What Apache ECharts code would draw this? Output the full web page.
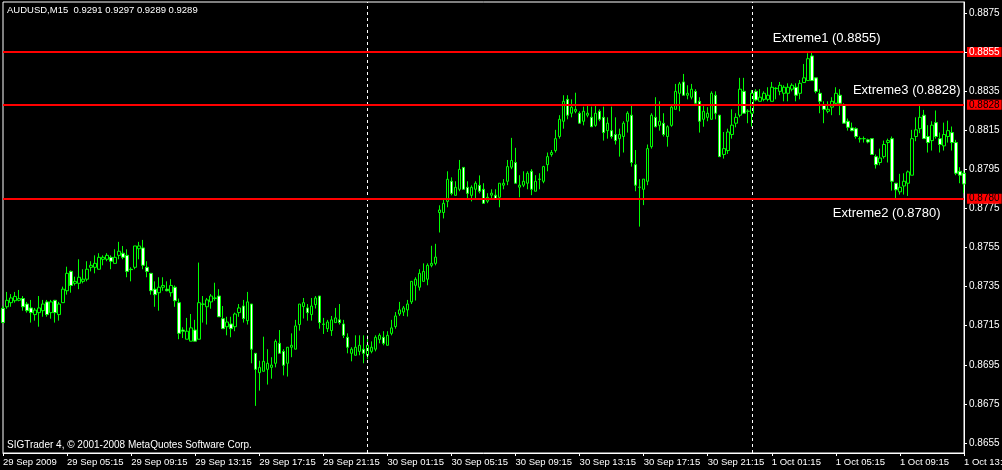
<!DOCTYPE html>
<html>
<head>
<meta charset="utf-8">
<script src="https://cdn.jsdelivr.net/npm/echarts@6/dist/echarts.min.js"></script>
<style>
html,body{margin:0;padding:0;background:#000;}
#chart{width:1002px;height:470px;}
</style>
</head>
<body>
<div id="chart"></div>
<script>
// ---- data (AUDUSD M15, 29 Sep 2009 01:15 onward) ----
const startTime = Date.UTC(2009, 8, 29, 1, 15);
const stepMinutes = 15;

const opens = [
0.87239,0.87247,0.87268,0.87278,0.87280,0.87289,0.87261,0.87241,0.87207,0.87217,
0.87227,0.87272,0.87217,0.87280,0.87207,0.87268,0.87329,0.87428,0.87367,0.87367,
0.87377,0.87388,0.87449,0.87449,0.87439,0.87490,0.87490,0.87500,0.87469,0.87510,
0.87521,0.87510,0.87439,0.87449,0.87544,0.87548,0.87449,0.87418,0.87337,0.87319,
0.87347,0.87337,0.87319,0.87347,0.87268,0.87128,0.87081,0.87071,0.87128,0.87081,
0.87261,0.87247,0.87272,0.87292,0.87302,0.87186,0.87145,0.87159,0.87145,0.87217,
0.87251,
0.87176,0.87261,0.87009,0.86910,0.86917,0.86927,0.86937,0.86958,0.87060,0.87019,
0.86958,0.87040,0.87030,0.87156,0.87248,0.87241,0.87207,0.87258,0.87302,0.87159,
0.87135,0.87125,0.87166,0.87180,0.87159,0.87091,0.87009,0.86999,0.87019,0.87030,
0.86999,0.87019,0.87030,0.87080,0.87091,0.87050,0.87111,0.87146,0.87210,0.87220,
0.87231,0.87272,0.87357,0.87347,0.87377,0.87388,0.87459,0.87469,0.87729,0.87729,
0.87786,0.87889,0.87817,0.87848,0.87960,0.87858,0.87817,0.87848,0.87868,0.87848,
0.87787,0.87818,0.87818,0.87807,0.87869,0.87889,0.87961,0.87985,0.87859,0.87869,
0.87879,0.87940,0.87838,0.87900,0.87889,0.87974,0.88026,0.88046,0.88118,0.88196,
0.88308,0.88237,0.88247,0.88237,0.88196,0.88227,0.88216,0.88175,0.88247,0.88216,
0.88148,0.88148,0.88128,0.88107,0.88118,0.88196,0.88227,0.87974,0.87859,0.87848,
0.87889,0.88066,0.88216,0.88175,0.88186,0.88118,0.88175,0.88257,0.88339,0.88397,
0.88329,0.88319,0.88349,0.88298,0.88206,0.88216,0.88206,0.88329,0.88227,0.88026,
0.88046,0.88128,0.88186,0.88227,0.88349,0.88247,0.88237,0.88349,0.88298,0.88308,
0.88308,0.88298,0.88363,0.88349,0.88339,0.88339,0.88360,0.88370,0.88339,0.88394,
0.88404,0.88530,0.88418,0.88339,0.88278,0.88247,0.88268,0.88288,0.88329,0.88278,
0.88196,0.88162,0.88158,0.88107,0.88107,0.88101,0.88107,0.88015,0.87985,0.88015,
0.88087,0.88107,0.87879,0.87835,0.87865,0.87879,0.87920,0.88118,0.88158,0.88227,
0.88118,0.88097,0.88189,0.88107,0.88070,0.88118,0.88138,0.88087,0.87940,0.87930
];
const highs = [
0.87251,0.87323,0.87312,0.87323,0.87333,0.87302,0.87272,0.87282,0.87241,0.87302,
0.87282,0.87282,0.87282,0.87282,0.87272,0.87350,0.87452,0.87432,0.87401,0.87490,
0.87439,0.87480,0.87480,0.87510,0.87521,0.87510,0.87521,0.87510,0.87541,0.87579,
0.87558,0.87541,0.87449,0.87558,0.87579,0.87589,0.87480,0.87418,0.87377,0.87398,
0.87398,0.87377,0.87388,0.87356,0.87289,0.87142,0.87190,0.87210,0.87180,0.87473,
0.87302,0.87292,0.87312,0.87370,0.87337,0.87251,0.87196,0.87196,0.87217,0.87261,
0.87282,
0.87323,0.87261,0.87009,0.86971,0.87094,0.87030,0.86989,0.87080,0.87128,0.87030,
0.87040,0.87111,0.87180,0.87261,0.87292,0.87261,0.87292,0.87302,0.87302,0.87190,
0.87180,0.87200,0.87241,0.87261,0.87180,0.87111,0.87040,0.87101,0.87101,0.87101,
0.87101,0.87070,0.87101,0.87111,0.87122,0.87122,0.87180,0.87220,0.87272,0.87251,
0.87282,0.87377,0.87398,0.87439,0.87469,0.87469,0.87559,0.87569,0.87766,0.87797,
0.87940,0.87909,0.87889,0.87998,0.87960,0.87889,0.87868,0.87889,0.87919,0.87879,
0.87828,0.87848,0.87848,0.87879,0.87900,0.87998,0.88111,0.88060,0.87920,0.87940,
0.87940,0.87951,0.87920,0.87930,0.87968,0.88036,0.88049,0.88152,0.88227,0.88329,
0.88329,0.88308,0.88342,0.88247,0.88271,0.88278,0.88271,0.88278,0.88257,0.88271,
0.88216,0.88271,0.88216,0.88158,0.88196,0.88247,0.88278,0.88049,0.87900,0.87900,
0.88077,0.88237,0.88319,0.88298,0.88237,0.88175,0.88278,0.88387,0.88397,0.88438,
0.88380,0.88387,0.88360,0.88319,0.88278,0.88268,0.88349,0.88349,0.88227,0.88141,
0.88158,0.88257,0.88237,0.88418,0.88418,0.88257,0.88356,0.88360,0.88360,0.88349,
0.88370,0.88397,0.88370,0.88397,0.88380,0.88390,0.88390,0.88390,0.88407,0.88489,
0.88544,0.88551,0.88418,0.88360,0.88298,0.88298,0.88319,0.88370,0.88360,0.88288,
0.88210,0.88189,0.88165,0.88118,0.88118,0.88107,0.88107,0.88026,0.88056,0.88097,
0.88107,0.88118,0.87879,0.87927,0.87930,0.87944,0.88152,0.88216,0.88278,0.88254,
0.88176,0.88196,0.88251,0.88138,0.88189,0.88199,0.88169,0.88101,0.87961,0.87940
];
const lows = [
0.87166,0.87237,0.87247,0.87268,0.87275,0.87227,0.87217,0.87166,0.87176,0.87145,
0.87196,0.87196,0.87186,0.87166,0.87176,0.87268,0.87309,0.87319,0.87356,0.87337,
0.87367,0.87377,0.87428,0.87418,0.87439,0.87459,0.87480,0.87439,0.87469,0.87490,
0.87490,0.87398,0.87377,0.87439,0.87490,0.87439,0.87398,0.87309,0.87247,0.87227,
0.87329,0.87326,0.87299,0.87247,0.87081,0.87087,0.87081,0.87071,0.87071,0.87081,
0.87166,0.87156,0.87237,0.87278,0.87196,0.87135,0.87101,0.87091,0.87122,0.87196,
0.87166,
0.87156,0.86958,0.86740,0.86818,0.86917,0.86849,0.86879,0.86937,0.87009,0.86896,
0.86890,0.86989,0.87030,0.87125,0.87187,0.87176,0.87176,0.87238,0.87135,0.87108,
0.87118,0.87098,0.87166,0.87156,0.87087,0.87009,0.86968,0.86999,0.86999,0.86958,
0.86978,0.87009,0.87019,0.87060,0.87050,0.87050,0.87101,0.87135,0.87200,0.87200,
0.87197,0.87261,0.87279,0.87330,0.87377,0.87357,0.87449,0.87459,0.87627,0.87699,
0.87756,0.87817,0.87817,0.87838,0.87848,0.87797,0.87786,0.87797,0.87827,0.87776,
0.87777,0.87797,0.87797,0.87756,0.87848,0.87869,0.87951,0.87879,0.87807,0.87859,
0.87848,0.87818,0.87838,0.87848,0.87879,0.87940,0.88015,0.88036,0.88107,0.88158,
0.88206,0.88216,0.88237,0.88186,0.88175,0.88216,0.88168,0.88168,0.88196,0.88097,
0.88107,0.88107,0.88077,0.88015,0.88036,0.88138,0.87964,0.87838,0.87657,0.87767,
0.87869,0.88056,0.88165,0.88148,0.88118,0.88066,0.88168,0.88257,0.88247,0.88329,
0.88308,0.88308,0.88278,0.88138,0.88168,0.88196,0.88206,0.88206,0.88015,0.88005,
0.88029,0.88107,0.88165,0.88216,0.88237,0.88186,0.88169,0.88298,0.88298,0.88298,
0.88298,0.88298,0.88308,0.88329,0.88298,0.88298,0.88349,0.88298,0.88308,0.88394,
0.88404,0.88404,0.88339,0.88237,0.88186,0.88237,0.88227,0.88278,0.88227,0.88186,
0.88148,0.88145,0.88107,0.88087,0.88087,0.88083,0.88026,0.87954,0.87971,0.88005,
0.87985,0.87841,0.87800,0.87821,0.87821,0.87814,0.87920,0.88094,0.88135,0.88107,
0.88036,0.88046,0.88107,0.88036,0.88046,0.88087,0.88046,0.87920,0.87879,0.87828
];
const closes = [
0.87166,0.87280,0.87292,0.87300,0.87289,0.87247,0.87227,0.87217,0.87230,0.87241,
0.87261,0.87207,0.87272,0.87217,0.87261,0.87337,0.87418,0.87356,0.87377,0.87398,
0.87388,0.87439,0.87459,0.87469,0.87500,0.87500,0.87510,0.87480,0.87500,0.87531,
0.87500,0.87428,0.87437,0.87558,0.87558,0.87459,0.87428,0.87329,0.87309,0.87347,
0.87356,0.87329,0.87356,0.87278,0.87111,0.87122,0.87122,0.87139,0.87071,0.87268,
0.87260,0.87282,0.87302,0.87290,0.87196,0.87135,0.87169,0.87135,0.87210,0.87241,
0.87186,
0.87272,0.87030,0.86927,0.86937,0.86968,0.86958,0.86949,0.87070,0.87009,0.86948,
0.87040,0.87050,0.87149,0.87261,0.87268,0.87217,0.87251,0.87292,0.87166,0.87157,
0.87169,0.87180,0.87190,0.87166,0.87101,0.87040,0.87030,0.87040,0.87050,0.87009,
0.87050,0.87040,0.87091,0.87101,0.87060,0.87101,0.87139,0.87200,0.87231,0.87241,
0.87261,0.87377,0.87388,0.87418,0.87428,0.87459,0.87469,0.87501,0.87742,0.87776,
0.87899,0.87827,0.87858,0.87950,0.87848,0.87827,0.87858,0.87879,0.87838,0.87776,
0.87807,0.87828,0.87797,0.87879,0.87879,0.87964,0.87995,0.87879,0.87869,0.87889,
0.87930,0.87848,0.87889,0.87899,0.87964,0.88015,0.88036,0.88107,0.88206,0.88298,
0.88227,0.88268,0.88257,0.88186,0.88247,0.88237,0.88168,0.88237,0.88206,0.88138,
0.88186,0.88118,0.88097,0.88128,0.88186,0.88237,0.87985,0.87869,0.87858,0.87900,
0.88056,0.88227,0.88168,0.88196,0.88128,0.88168,0.88268,0.88349,0.88387,0.88329,
0.88339,0.88360,0.88288,0.88196,0.88247,0.88237,0.88339,0.88237,0.88015,0.88056,
0.88141,0.88176,0.88216,0.88360,0.88237,0.88247,0.88339,0.88305,0.88319,0.88339,
0.88329,0.88370,0.88365,0.88380,0.88370,0.88370,0.88380,0.88329,0.88390,0.88418,
0.88516,0.88404,0.88349,0.88298,0.88257,0.88257,0.88298,0.88339,0.88288,0.88186,
0.88165,0.88148,0.88118,0.88106,0.88107,0.88090,0.88026,0.87974,0.88008,0.88077,
0.88097,0.87889,0.87845,0.87858,0.87889,0.87937,0.88107,0.88152,0.88216,0.88107,
0.88087,0.88176,0.88118,0.88077,0.88128,0.88148,0.88087,0.87930,0.87920,0.87875
];

const yTicks = [0.8655,0.8675,0.8695,0.8715,0.8735,0.8755,0.8775,0.8795,0.8815,0.8835,0.8855,0.8875];
const extremeLevels = [0.8855, 0.8828, 0.8780];
const extremeLabels = [
  {name: 'Extreme1 (0.8855)', idx: 192, price: 0.88622},
  {name: 'Extreme3 (0.8828)', idx: 212, price: 0.88352},
  {name: 'Extreme2 (0.8780)', idx: 207, price: 0.87722}
];
const daySeparators = [91, 187];
const headerText = 'AUDUSD,M15  0.9291 0.9297 0.9289 0.9289';
const footerText = 'SIGTrader 4, \u00A9 2001-2008 MetaQuotes Software Corp.';

// ---- build ----
const months = ['Jan','Feb','Mar','Apr','May','Jun','Jul','Aug','Sep','Oct','Nov','Dec'];
function pad(n){return (n<10?'0':'')+n;}
const categories = opens.map((_, i) => {
  const d = new Date(startTime + i * stepMinutes * 60000);
  return d.getUTCDate() + ' ' + months[d.getUTCMonth()] + ' ' + pad(d.getUTCHours()) + ':' + pad(d.getUTCMinutes());
});
const candleData = opens.map((o, i) => [o, closes[i], lows[i], highs[i]]);

const FONT = 'Liberation Sans';
const chart = echarts.init(document.getElementById('chart'), null, {renderer: 'canvas'});

chart.setOption({
  animation: false,
  backgroundColor: '#000',
  title: [
    {text: headerText, left: 7, top: 5, padding: 0,
     textStyle: {color: '#fff', fontSize: 9.5, fontWeight: 'normal', fontFamily: FONT}},
    {text: footerText, left: 7, top: 440, padding: 0,
     textStyle: {color: '#fff', fontSize: 10, fontWeight: 'normal', fontFamily: FONT}}
  ],
  grid: {left: 3, right: 38, top: 2, bottom: 17, show: true, borderColor: '#fff', borderWidth: 1,
         backgroundColor: '#000', containLabel: false, outerBoundsMode: 'none'},
  xAxis: {
    type: 'category',
    data: categories,
    boundaryGap: false,
    axisLine: {show: true, lineStyle: {color: '#fff', width: 1}},
    axisTick: {show: true, length: 3, interval: (i) => i % 16 === 0, lineStyle: {color: '#fff'}},
    axisLabel: {
      interval: (i) => i % 16 === 0,
      align: 'left', margin: 4, color: '#fff', fontSize: 9.5, fontFamily: FONT,
      hideOverlap: false,
      formatter: (v, i) => i === 0 ? '29 Sep 2009' : v
    },
    splitLine: {show: false}
  },
  yAxis: {
    type: 'value',
    position: 'right',
    min: 0.86499, max: 0.88806,
    axisLine: {show: true, lineStyle: {color: '#fff', width: 1}},
    axisTick: {show: true, length: 3, customValues: yTicks, lineStyle: {color: '#fff'}},
    axisLabel: {customValues: yTicks, color: '#fff', fontSize: 10, fontFamily: FONT, margin: 5,
      formatter: (v) => v.toFixed(4)},
    splitLine: {show: false}
  },
  series: [
    {
      type: 'candlestick',
      data: candleData,
      barWidth: 3,
      z: 3,
      itemStyle: {color: '#000', color0: '#ffffff', borderColor: '#00ff00', borderColor0: '#00ff00', borderWidth: 1},
      markLine: {
        silent: true,
        symbol: ['none', 'none'],
        animation: false,
        precision: 5,
        data: daySeparators.map(i => ({
          xAxis: categories[i],
          lineStyle: {color: '#fff', width: 1, type: [3, 3]},
          label: {show: false}
        })).concat(extremeLevels.map((v, k) => ({
          yAxis: v,
          lineStyle: {color: '#ff0000', width: 2, type: 'solid'},
          label: {
            show: true, position: 'end', distance: 3,
            formatter: () => v.toFixed(4),
            backgroundColor: '#ff0000', color: k === 0 ? '#ffffff' : '#000000',
            fontSize: 10, fontFamily: FONT, padding: [0, 2, 0, 2], lineHeight: 10
          }
        })))
      },
      markPoint: {
        silent: true,
        symbol: 'circle', symbolSize: 0,
        animation: false,
        data: extremeLabels.map(e => ({
          name: e.name, coord: [e.idx, e.price],
          label: {show: true, position: 'right', distance: 1, formatter: '{b}',
            color: '#fff', fontSize: 13, fontFamily: FONT}
        }))
      }
    }
  ]
});
</script>
</body>
</html>
